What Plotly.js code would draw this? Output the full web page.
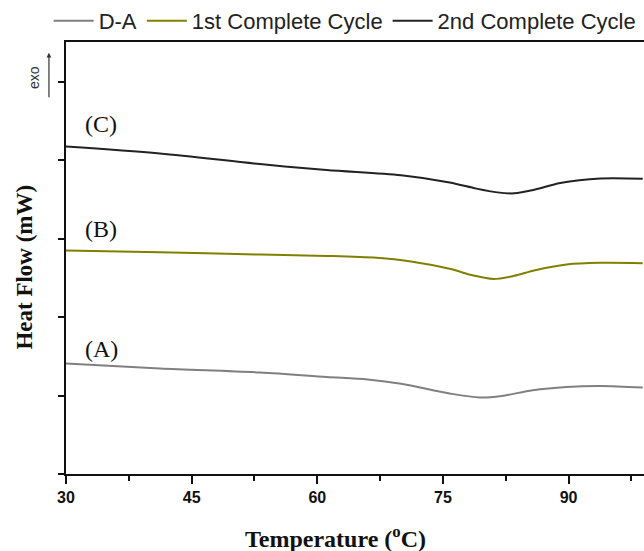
<!DOCTYPE html>
<html>
<head>
<meta charset="utf-8">
<script src="https://cdn.plot.ly/plotly-3.0.1.min.js"></script>
<style>body{margin:0;padding:0;background:#fff;}#chart{width:644px;height:551px;}</style>
</head>
<body>
<div id="chart"></div>
<script>
// Temperature (°C) and heat flow (arbitrary offset units, mW)
var tempA = [30, 41.2, 53.15, 61.1, 66, 70, 75.8, 79.4, 82, 85.7, 89.75, 93.8, 98.85];
var flowA = [1.408, 1.345, 1.294, 1.238, 1.205, 1.151, 1.027, 0.976, 0.995, 1.069, 1.111, 1.123, 1.103];

var tempB = [30, 41.2, 53.15, 61.1, 67.1, 71, 75.8, 78.5, 81, 83.5, 86, 89.75, 93.8, 98.85];
var flowB = [2.850, 2.828, 2.799, 2.782, 2.757, 2.714, 2.617, 2.535, 2.488, 2.528, 2.600, 2.672, 2.693, 2.688];

var tempC = [30, 41.2, 53.15, 61.1, 70, 75.8, 79, 81.5, 83.5, 86, 89, 93.8, 98.85];
var flowC = [4.177, 4.088, 3.953, 3.877, 3.810, 3.719, 3.640, 3.592, 3.580, 3.628, 3.712, 3.770, 3.766];

var seriesNames = ["D-A", "1st Complete Cycle", "2nd Complete Cycle"];
var seriesColors = ["#808080", "#808000", "#222222"];
var curveLabels = ["(A)", "(B)", "(C)"];
var labelY = [1.60, 3.12, 4.47];

var traces = [
  {x: tempA, y: flowA, name: seriesNames[0]},
  {x: tempB, y: flowB, name: seriesNames[1]},
  {x: tempC, y: flowC, name: seriesNames[2]}
].map(function(t, i){
  t.type = 'scatter'; t.mode = 'lines';
  t.line = {color: seriesColors[i], width: 2, shape: 'spline', smoothing: 0.9};
  return t;
});

var serif = 'Liberation Serif, Times New Roman, serif';
var sans = 'Liberation Sans, Arial, sans-serif';

var annotations = curveLabels.map(function(lbl, i){
  return {x: 34.2, y: labelY[i], xref: 'x', yref: 'y', text: lbl, showarrow: false,
          font: {family: serif, size: 24, color: '#111'}};
});
annotations.push({x: -0.0295, y: 0.975, xref: 'paper', yref: 'paper', text: '', showarrow: true,
  ax: 0, ay: 46, arrowhead: 2, arrowsize: 0.8, arrowwidth: 1.2, arrowcolor: '#333'});
annotations.push({x: -0.055, y: 0.917, xref: 'paper', yref: 'paper', xanchor: 'center', yanchor: 'middle', text: 'exo', showarrow: false,
  textangle: -90, font: {family: sans, size: 14, color: '#333'}});
annotations.push({x: 0.467, y: -0.145, xref: 'paper', yref: 'paper', xanchor: 'center', yanchor: 'middle', text: 'Temperature (<sup>o</sup>C)', showarrow: false,
  font: {family: serif, size: 24, color: '#111', weight: 'bold'}});
annotations.push({x: -0.071, y: 0.48, xref: 'paper', yref: 'paper', xanchor: 'center', yanchor: 'middle', text: 'Heat Flow (mW)', showarrow: false,
  textangle: -90, font: {family: serif, size: 23, color: '#111', weight: 'bold'}});

var layout = {
  width: 644, height: 551,
  margin: {l: 66, r: 0, t: 41, b: 77},
  paper_bgcolor: '#fff', plot_bgcolor: '#fff',
  showlegend: true,
  legend: {orientation: 'h', x: -0.03, xanchor: 'left', y: 1.0, yanchor: 'bottom',
           font: {family: sans, size: 22, color: '#222'},
           itemwidth: 40, tracegroupgap: 0, bgcolor: 'rgba(0,0,0,0)'},
  xaxis: {range: [30, 99], dtick: 15, tick0: 30, ticks: 'outside', ticklen: 8, tickwidth: 2, tickcolor: '#111',
          showline: true, linecolor: '#111', linewidth: 2, mirror: true, showgrid: false, zeroline: false,
          tickfont: {family: sans, size: 16, color: '#111', weight: 'bold'},
          minor: {dtick: 7.5, ticks: 'outside', ticklen: 5, tickwidth: 2, tickcolor: '#111', showgrid: false}},
  yaxis: {range: [0, 5.51], dtick: 1, tick0: 0, ticks: 'outside', ticklen: 6, tickwidth: 2, tickcolor: '#111',
          showticklabels: false, showline: true, linecolor: '#111', linewidth: 2, mirror: false, showgrid: false, zeroline: false},
  annotations: annotations
};

Plotly.newPlot('chart', traces, layout, {displayModeBar: false, staticPlot: true});
</script>
</body>
</html>
